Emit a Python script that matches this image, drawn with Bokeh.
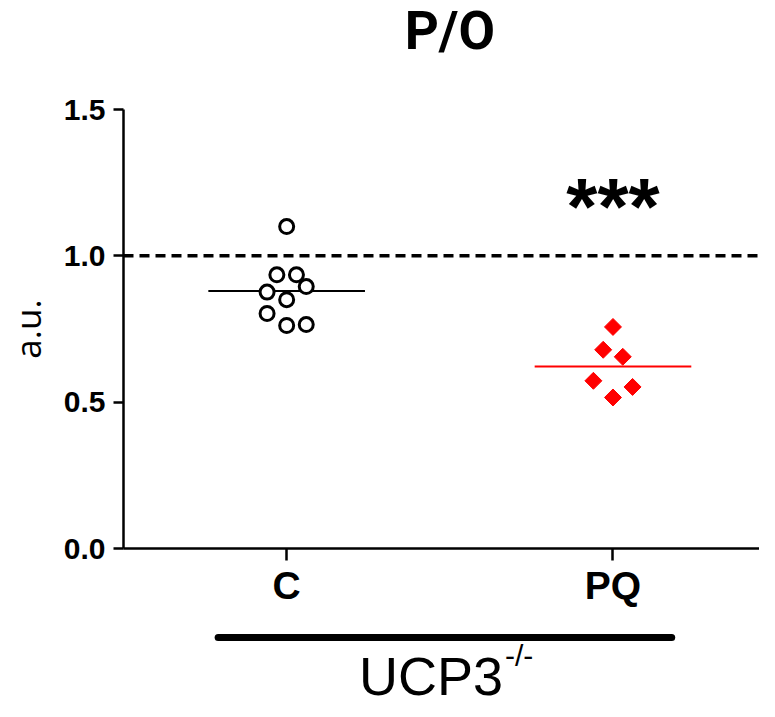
import numpy as np
from bokeh.plotting import figure
from bokeh.models import Range1d, LinearAxis, FixedTicker, NumeralTickFormatter, Span
from bokeh.layouts import column
from bokeh.core.properties import value
from bokeh.embed import file_html
from bokeh.resources import INLINE

# ---- data ----
categories = ["C", "PQ"]
c_values = [1.100, 0.935, 0.935, 0.895, 0.876, 0.850, 0.803, 0.762, 0.765]
c_jitter = [0.0, -0.03, 0.03, 0.06, -0.06, 0.0, -0.06, 0.0, 0.06]
pq_values = [0.757, 0.679, 0.655, 0.573, 0.552, 0.516]
pq_jitter = [0.0, -0.03, 0.03, -0.06, 0.06, 0.0]
y_ticks = [0.0, 0.5, 1.0, 1.5]
reference_level = 1.0
significance = "***"
significance_y = 1.167
group_label = "UCP3"
group_superscript = "-/-"
group_span = [0.79, 2.18]
title_text = "P/O"
y_label = "a.u."

c_pos = 1
pq_pos = 2
mean_half = 0.24
W = 759
x_range = Range1d(0.5, 2.449)

# ---- title strip ----
t = figure(width=W, height=94, x_range=x_range, y_range=Range1d(0, 1),
           x_axis_type=None, y_axis_type=None, output_backend="svg", toolbar_location=None,
           min_border_left=114, min_border_right=0, min_border_top=0, min_border_bottom=0)
t.outline_line_color = None
t.text(x=[(c_pos + pq_pos) / 2], y=[0.675], text=[title_text], text_font=value("Roboto"),
       text_font_style="bold", text_font_size="53px", text_align="center",
       text_baseline="alphabetic", text_color="black")

# ---- main plot ----
p = figure(width=W, height=526, x_range=x_range, y_range=Range1d(0, 1.5),
           x_axis_type=None, y_axis_type=None, output_backend="svg", toolbar_location=None,
           min_border_left=114, min_border_right=0, min_border_top=15, min_border_bottom=72)
p.outline_line_color = None
p.background_fill_color = "white"

yaxis = LinearAxis(ticker=FixedTicker(ticks=y_ticks, minor_ticks=[]),
                   formatter=NumeralTickFormatter(format="0.0"),
                   bounds=(0, 1.5), axis_label=y_label)
yaxis.major_tick_out = 10
yaxis.major_tick_in = 0
yaxis.minor_tick_out = 0
yaxis.minor_tick_in = 0
yaxis.axis_line_width = 2.5
yaxis.major_tick_line_width = 2.5
yaxis.axis_line_color = "black"
yaxis.major_tick_line_color = "black"
yaxis.major_label_text_font = "Liberation Sans"
yaxis.major_label_text_font_size = "30px"
yaxis.major_label_text_font_style = "bold"
yaxis.major_label_text_color = "black"
yaxis.major_label_standoff = 8
yaxis.axis_label_text_font = "Open Sans"
yaxis.axis_label_text_font_size = "35px"
yaxis.axis_label_text_font_style = "normal"
yaxis.axis_label_text_color = "black"
yaxis.axis_label_standoff = 10
p.add_layout(yaxis, "left")

xaxis = LinearAxis(ticker=FixedTicker(ticks=[c_pos, pq_pos], minor_ticks=[]),
                   major_label_overrides={c_pos: categories[0], pq_pos: categories[1]})
xaxis.major_tick_out = 12
xaxis.major_tick_in = 0
xaxis.minor_tick_out = 0
xaxis.minor_tick_in = 0
xaxis.axis_line_width = 2.5
xaxis.major_tick_line_width = 2.5
xaxis.axis_line_color = "black"
xaxis.major_tick_line_color = "black"
xaxis.major_label_text_font = "Liberation Sans"
xaxis.major_label_text_font_size = "39px"
xaxis.major_label_text_font_style = "bold"
xaxis.major_label_text_color = "black"
xaxis.major_label_standoff = 3
p.add_layout(xaxis, "below")

p.add_layout(Span(location=reference_level, dimension="width", line_color="black",
                  line_width=3.5, line_dash="10 6"))

means = [float(np.mean(c_values)), float(np.mean(pq_values))]
p.segment(x0=[c_pos - mean_half, pq_pos - mean_half], x1=[c_pos + mean_half, pq_pos + mean_half],
          y0=means, y1=means, line_color=["black", "red"], line_width=2)

p.scatter(x=[c_pos + j for j in c_jitter], y=c_values, marker="circle", size=14,
          fill_color="white", line_color="black", line_width=3)
p.scatter(x=[pq_pos + j for j in pq_jitter], y=pq_values, marker="square", angle=np.pi / 4,
          size=12, fill_color="red", line_color="red", line_width=1)

p.text(x=[pq_pos], y=[significance_y], text=[significance], text_font=value("Liberation Sans"),
       text_font_style="bold", text_font_size="80px", text_align="center",
       text_baseline="alphabetic", text_color="black")

# ---- group bracket strip ----
q = figure(width=W, height=89, x_range=x_range, y_range=Range1d(0, 1),
           x_axis_type=None, y_axis_type=None, output_backend="svg", toolbar_location=None,
           min_border_left=114, min_border_right=0, min_border_top=0, min_border_bottom=0)
q.outline_line_color = None
q.segment(x0=[group_span[0]], x1=[group_span[1]], y0=[0.809], y1=[0.809],
          line_color="black", line_width=7, line_cap="round")
q.text(x=[1.663], y=[0.379], text=[group_label], text_font=value("Liberation Sans"),
       text_font_size="54px", text_align="right", text_baseline="alphabetic", text_color="black")
q.text(x=[1.669], y=[0.611], text=[group_superscript], text_font=value("Liberation Sans"),
       text_font_size="30px", text_align="left", text_baseline="alphabetic", text_color="black")

layout = column(t, p, q, spacing=0)
open("out.html", "w").write(file_html(layout, INLINE))
